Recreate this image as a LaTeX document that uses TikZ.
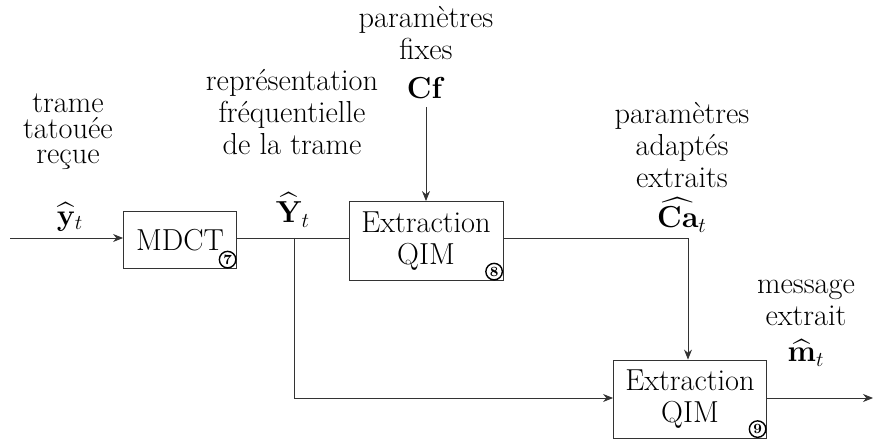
\documentclass[tikz,border=0pt]{standalone}
\usepackage{amsmath, amssymb}
\usepackage{tikz}
\usetikzlibrary{arrows.meta, positioning, calc}

\begin{document}
\begin{tikzpicture}[
    x=0.02cm, y=-0.02cm,
    block/.style={rectangle, draw=black!80, line width=0.5pt, fill=white,
                  font=\LARGE\linespread{0.82}\selectfont, align=center, inner sep=2pt},
    lbl/.style={font=\LARGE\linespread{0.82}\selectfont, align=center, inner sep=0pt},
    num/.style={circle, draw=black, line width=0.8pt, minimum size=0.33cm,
                inner sep=0pt, font=\footnotesize\bfseries, anchor=south east},
    link/.style={-{Stealth[length=2mm, width=1.6mm]}, line width=0.5pt, draw=black!80},
    wire/.style={line width=0.5pt, draw=black!80},
]
\useasboundingbox (0,0) rectangle (873,442);

% Blocks
\node[block, minimum width=2.26cm, minimum height=1.14cm] (mdct) at (180,240) {MDCT};
\node[block, minimum width=3.08cm, minimum height=1.58cm] (qima) at (426,241) {Extraction\\QIM};
\node[block, minimum width=3.06cm, minimum height=1.56cm] (qimb) at (690,399) {Extraction\\QIM};

% Numbers
\node[num] at ([shift={(-3,-3)}]mdct.south east) {7};
\node[num] at ([shift={(-3,-3)}]qima.south east) {8};
\node[num] at ([shift={(-3,-3)}]qimb.south east) {9};

% Labels
\node[lbl, font=\LARGE\linespread{0.66}\selectfont] (trame) at (68,132) {trame\\tatouée\\reçue};
\node[lbl] (yt) at (70,217) {$\widehat{\mathbf{y}}_t$};
\node[lbl] (repr) at (292,112) {représentation\\fréquentielle\\de la trame};
\node[lbl] (Yt) at (293,210) {$\widehat{\mathbf{Y}}_t$};
\node[lbl] (fixes) at (426,33) {paramètres\\fixes};
\node[lbl] (cf) at (426,88) {$\mathbf{Cf}$};
\node[lbl] (adapt) at (682,145) {paramètres\\adaptés\\extraits};
\node[lbl] (cat) at (682,215) {$\widehat{\mathbf{Ca}}_t$};
\node[lbl] (msg) at (806,303) {message\\extrait};
\node[lbl] (mt) at (806,353) {$\widehat{\mathbf{m}}_t$};

% Free ends
\coordinate (in) at (10,238);
\coordinate (out) at (873,398);
\coordinate (split) at (294,238);
\coordinate (drop) at (688,300);

% Connectors
\draw[link] (in) -- (mdct.west |- in);
\draw[wire] (mdct.east |- split) -- (qima.west |- split);
\draw[link] (split) |- (qimb.west |- out);
\draw[link] ([yshift=-0.16cm]cf.south) -- (qima.north);
\draw[link] (qima.east |- split) -| (qimb.north -| drop);
\draw[link] (qimb.east |- out) -- (out);

\end{tikzpicture}
\end{document}
